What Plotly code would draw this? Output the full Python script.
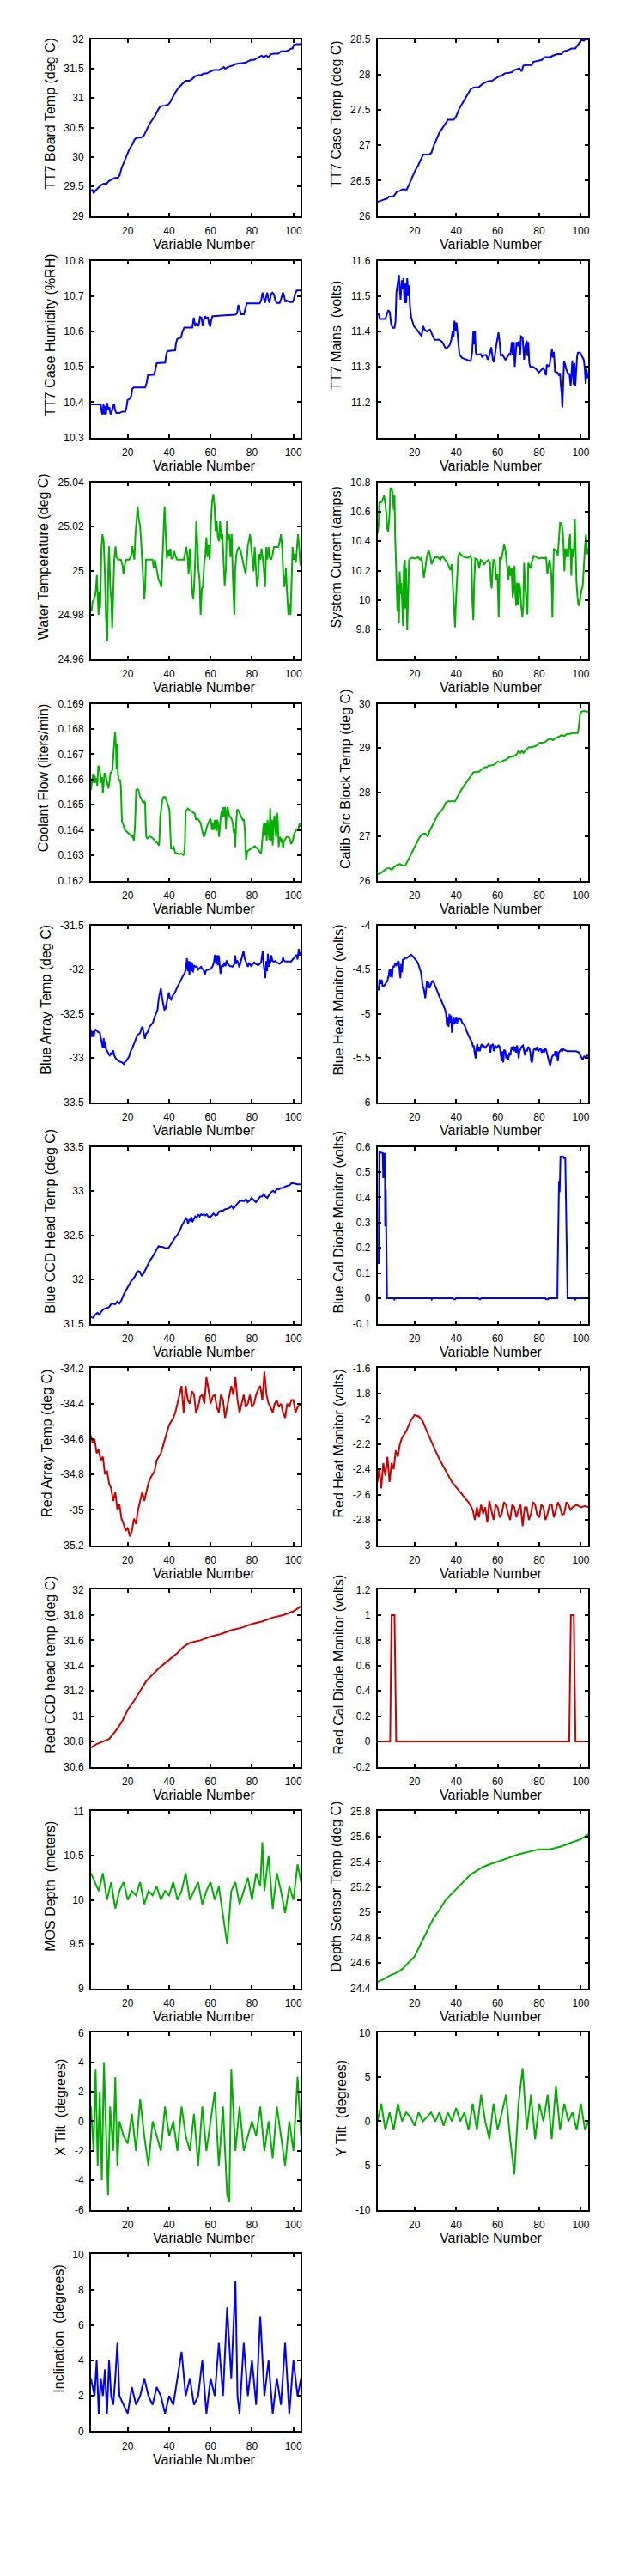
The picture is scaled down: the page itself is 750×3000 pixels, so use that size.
import plotly.graph_objects as go

# ---- data: (variable number, value) pairs ----
tt7_board = [(2.2, 29.43), (2.9, 29.44), (3.6, 29.39), (4.3, 29.425), (5.6, 29.47), (7.0, 29.52), (8.4, 29.546),
             (9.8, 29.546), (10.9, 29.594), (12.3, 29.618), (13.6, 29.643), (15.3, 29.652), (16.1, 29.69),
             (17.0, 29.81), (18.1, 29.908), (19.4, 30.029), (20.8, 30.135), (22.2, 30.213), (23.3, 30.295),
             (24.3, 30.329), (26.4, 30.329), (27.7, 30.357), (29.1, 30.464), (30.5, 30.56), (31.9, 30.633),
             (33.3, 30.705), (34.6, 30.80), (35.7, 30.86), (38.1, 30.874), (39.5, 30.889), (40.4, 30.923),
             (41.5, 31.005), (42.9, 31.092), (44.3, 31.164), (45.7, 31.213), (47.1, 31.271), (47.8, 31.295),
             (49.8, 31.295), (50.9, 31.319), (52.6, 31.372), (54.0, 31.391), (55.4, 31.391), (56.7, 31.42),
             (58.1, 31.42), (60.2, 31.454), (61.6, 31.478), (64.3, 31.478), (65.3, 31.502), (66.4, 31.527),
             (67.1, 31.498), (68.5, 31.527), (70.6, 31.551), (71.9, 31.575), (73.3, 31.585), (75.4, 31.599),
             (76.8, 31.599), (78.1, 31.623), (79.5, 31.647), (80.9, 31.647), (82.3, 31.671), (83.7, 31.696),
             (84.6, 31.72), (85.7, 31.696), (86.9, 31.72), (87.8, 31.696), (89.2, 31.744), (90.6, 31.754),
             (92.7, 31.754), (94.0, 31.792), (96.1, 31.792), (97.5, 31.807), (98.9, 31.841), (99.6, 31.841),
             (100.2, 31.903), (101.2, 31.913), (103.7, 31.913)]

tt7_case = [(2.2, 26.2), (2.8, 26.205), (4.0, 26.213), (5.4, 26.233), (6.8, 26.246), (7.7, 26.274), (9.5, 26.274),
            (10.4, 26.294), (11.5, 26.342), (12.9, 26.354), (14.0, 26.374), (16.3, 26.374), (17.7, 26.463),
            (19.0, 26.556), (20.4, 26.648), (21.8, 26.717), (23.1, 26.809), (24.2, 26.87), (27.2, 26.87),
            (28.2, 26.898), (29.3, 26.998), (30.6, 27.079), (32.0, 27.18), (33.4, 27.24), (34.7, 27.30),
            (36.1, 27.361), (38.8, 27.361), (39.9, 27.40), (41.6, 27.522), (42.9, 27.59), (44.3, 27.663),
            (45.7, 27.723), (47.0, 27.791), (48.4, 27.816), (51.1, 27.824), (52.5, 27.864), (53.9, 27.884),
            (55.2, 27.904), (57.3, 27.912), (58.6, 27.936), (60.7, 27.977), (62.0, 27.985), (63.4, 28.017),
            (65.5, 28.025), (66.8, 28.033), (68.2, 28.065), (69.6, 28.073), (70.5, 28.085), (71.6, 28.045),
            (72.3, 28.126), (74.3, 28.134), (76.4, 28.134), (77.1, 28.178), (79.1, 28.194), (81.2, 28.206),
            (82.5, 28.246), (85.3, 28.246), (86.6, 28.267), (88.7, 28.287), (90.7, 28.287), (91.8, 28.327),
            (93.4, 28.339), (95.5, 28.367), (97.3, 28.367), (98.2, 28.407), (99.2, 28.448), (100.3, 28.488),
            (101.4, 28.476), (102.3, 28.5), (103.7, 28.49)]

tt7_humidity = [(2.2, 10.3934), (7.0, 10.3934), (7.4, 10.3733), (7.8, 10.3652), (8.3, 10.3934), (8.7, 10.3652),
                (9.1, 10.3894), (9.5, 10.3652), (10.1, 10.3974), (10.6, 10.3773), (11.2, 10.3853), (11.7, 10.3652),
                (12.3, 10.3733), (12.8, 10.3813), (13.4, 10.3958), (13.9, 10.3773), (14.5, 10.3692), (16.0, 10.3692),
                (17.4, 10.3733), (18.8, 10.3733), (19.4, 10.3853), (19.9, 10.4055), (20.8, 10.4095), (21.7, 10.4176),
                (22.2, 10.4377), (22.9, 10.4417), (28.4, 10.4417), (29.1, 10.4538), (29.8, 10.4763), (32.6, 10.4779),
                (33.3, 10.49), (34.0, 10.5101), (38.1, 10.5118), (38.5, 10.5303), (39.1, 10.544), (42.9, 10.5464),
                (43.3, 10.5665), (43.9, 10.5786), (45.7, 10.5826), (46.4, 10.5987), (47.3, 10.6108), (51.2, 10.6108),
                (51.9, 10.639), (52.6, 10.6148), (53.3, 10.6229), (54.2, 10.6148), (54.9, 10.6406), (55.6, 10.639),
                (56.2, 10.6148), (56.7, 10.6309), (57.4, 10.643), (58.1, 10.6349), (58.7, 10.6406), (59.2, 10.6229),
                (59.8, 10.6132), (60.3, 10.6309), (60.9, 10.643), (71.9, 10.647), (72.8, 10.651), (73.4, 10.6752),
                (74.0, 10.6631), (74.7, 10.6486), (76.1, 10.6486), (76.8, 10.6631), (77.5, 10.6792), (83.7, 10.6792),
                (84.4, 10.6873), (85.1, 10.7098), (85.7, 10.6913), (86.3, 10.6808), (86.9, 10.6994), (87.4, 10.7098),
                (88.0, 10.6873), (88.5, 10.6808), (89.2, 10.705), (89.9, 10.7098), (90.6, 10.705), (91.3, 10.6873),
                (92.0, 10.6808), (93.4, 10.6808), (94.0, 10.6913), (94.9, 10.7098), (95.4, 10.7034), (96.1, 10.6833),
                (96.8, 10.6873), (98.2, 10.6833), (99.6, 10.6833), (100.2, 10.6913), (100.9, 10.7074),
                (101.6, 10.7155), (103.7, 10.7155)]

tt7_mains = [(2.2, 11.45), (2.7, 11.45), (3.3, 11.435), (6.0, 11.435), (6.8, 11.45), (7.4, 11.46), (8.1, 11.455),
             (8.8, 11.42), (9.5, 11.41), (10.4, 11.41), (10.9, 11.43), (11.3, 11.51), (11.8, 11.53), (12.5, 11.56),
             (12.9, 11.52), (13.3, 11.49), (13.9, 11.545), (14.3, 11.52), (14.7, 11.55), (15.2, 11.48),
             (15.6, 11.535), (16.0, 11.48), (16.5, 11.55), (17.0, 11.50), (17.4, 11.53), (17.8, 11.475),
             (18.4, 11.44), (19.7, 11.415), (21.1, 11.405), (22.5, 11.395), (23.4, 11.387), (24.2, 11.415),
             (24.8, 11.405), (25.9, 11.40), (27.5, 11.405), (28.6, 11.39), (29.7, 11.376), (32.0, 11.376),
             (33.4, 11.37), (34.7, 11.355), (35.4, 11.352), (36.8, 11.36), (37.7, 11.376), (38.3, 11.40),
             (38.8, 11.385), (39.2, 11.43), (39.8, 11.40), (40.2, 11.425), (40.9, 11.375), (41.6, 11.335),
             (42.9, 11.325), (44.3, 11.322), (45.7, 11.318), (47.0, 11.316), (47.7, 11.34), (48.3, 11.40),
             (48.7, 11.363), (49.1, 11.40), (49.5, 11.338), (50.4, 11.334), (51.8, 11.336), (52.5, 11.328),
             (53.6, 11.333), (54.5, 11.333), (55.2, 11.32), (55.9, 11.33), (56.9, 11.355), (57.7, 11.32),
             (58.2, 11.313), (58.8, 11.345), (59.3, 11.36), (60.0, 11.383), (60.4, 11.397), (61.0, 11.366),
             (61.5, 11.33), (62.3, 11.334), (63.1, 11.324), (63.7, 11.32), (64.5, 11.326), (65.5, 11.336),
             (66.1, 11.334), (66.8, 11.37), (67.2, 11.334), (67.8, 11.37), (68.2, 11.30), (68.6, 11.346),
             (69.1, 11.37), (69.7, 11.358), (70.2, 11.372), (70.8, 11.334), (71.2, 11.386), (72.0, 11.383),
             (72.7, 11.32), (73.2, 11.355), (73.9, 11.374), (74.3, 11.33), (74.7, 11.37), (75.2, 11.31),
             (75.7, 11.30), (77.1, 11.3), (78.4, 11.294), (79.8, 11.284), (80.7, 11.29), (81.8, 11.296),
             (82.5, 11.29), (83.2, 11.276), (83.6, 11.306), (84.3, 11.302), (85.0, 11.306), (85.5, 11.326),
             (86.1, 11.35), (86.5, 11.326), (87.0, 11.342), (87.6, 11.286), (88.7, 11.284), (89.4, 11.277),
             (90.0, 11.282), (90.4, 11.245), (90.7, 11.23), (91.1, 11.185), (91.5, 11.253), (91.9, 11.315),
             (92.5, 11.306), (92.9, 11.294), (93.7, 11.282), (94.5, 11.28), (95.1, 11.245), (95.5, 11.302),
             (95.9, 11.318), (96.5, 11.25), (96.9, 11.31), (97.3, 11.245), (97.8, 11.31), (98.2, 11.33),
             (98.6, 11.34), (99.6, 11.34), (100.5, 11.33), (101.4, 11.32), (101.9, 11.294), (102.3, 11.252),
             (102.7, 11.294), (103.3, 11.27), (103.7, 11.27)]

water_temp = [(2.2, 24.982), (2.6, 24.982), (3.0, 24.986), (3.6, 24.9865), (4.3, 24.989), (4.7, 24.992),
              (5.1, 24.998), (5.5, 24.9865), (5.9, 24.980), (6.3, 24.9905), (6.7, 24.983), (7.3, 25.010),
              (7.8, 25.0165), (8.4, 25.0127), (8.9, 25.001), (9.5, 24.979), (10.1, 24.968), (10.6, 24.9997),
              (11.0, 25.011), (11.6, 24.992), (12.1, 24.9865), (12.5, 24.974), (13.1, 24.9985), (13.5, 25.005),
              (14.1, 25.011), (14.6, 25.006), (15.3, 25.005), (16.7, 25.005), (17.5, 25.0023), (17.9, 24.9985),
              (18.5, 25.0023), (19.2, 25.005), (20.8, 25.005), (21.7, 25.007), (22.2, 25.011), (22.8, 25.0075),
              (23.2, 25.005), (23.7, 25.016), (24.3, 25.0217), (24.8, 25.029), (25.4, 25.023), (26.0, 25.020),
              (26.5, 25.0127), (27.0, 25.005), (27.6, 24.9975), (28.0, 24.987), (28.4, 24.992), (28.8, 25.005),
              (31.9, 25.005), (32.6, 25.001), (33.1, 25.005), (33.7, 25.0023), (34.2, 24.9997), (34.9, 24.996),
              (35.6, 24.9946), (36.2, 24.9926), (36.7, 25.0036), (37.3, 25.020), (37.8, 25.029), (38.4, 25.0153),
              (38.9, 25.0055), (39.5, 25.0094), (40.0, 25.0068), (40.6, 25.010), (41.1, 25.0055), (41.8, 25.0055),
              (42.4, 25.0088), (43.2, 25.0062), (43.9, 25.005), (47.1, 25.005), (47.8, 25.0081), (48.3, 25.0107),
              (48.9, 25.0062), (49.4, 24.9985), (50.0, 25.010), (50.5, 25.001), (51.1, 24.9907), (51.6, 24.987),
              (52.0, 24.992), (52.6, 25.005), (53.1, 25.0223), (53.7, 25.0114), (54.1, 25.001), (54.7, 24.996),
              (55.2, 24.980), (55.8, 24.992), (56.3, 24.9926), (56.9, 25.0036), (57.4, 25.0062), (58.0, 25.015),
              (58.5, 25.0062), (59.1, 25.0114), (59.6, 25.005), (60.2, 25.0223), (60.7, 25.031), (61.3, 25.0346),
              (61.9, 25.0294), (62.4, 25.018), (63.0, 25.0223), (63.5, 25.015), (64.1, 25.0133), (64.6, 25.0223),
              (65.2, 25.014), (65.7, 25.0165), (66.3, 24.9997), (66.8, 24.9933), (67.4, 25.001), (67.9, 25.0223),
              (68.5, 25.014), (69.1, 25.0165), (69.6, 25.0062), (70.2, 25.0165), (70.7, 24.9985), (71.2, 24.987),
              (71.5, 24.980), (71.9, 25.001), (72.5, 25.0075), (73.0, 25.0094), (73.7, 25.0107), (74.4, 25.0094),
              (75.1, 25.0062), (75.7, 25.0036), (76.4, 24.9997), (76.9, 24.9985), (77.5, 25.005), (78.0, 25.0114),
              (78.6, 25.014), (79.1, 25.0165), (79.7, 25.010), (80.2, 25.0055), (80.8, 24.9997), (81.3, 25.0107),
              (81.9, 24.9997), (82.4, 24.9926), (83.0, 24.997), (83.5, 25.0075), (84.1, 25.005), (84.6, 25.010),
              (85.2, 25.0055), (85.7, 25.001), (86.3, 24.9926), (86.9, 25.0107), (87.4, 25.005), (88.0, 25.0107),
              (88.5, 25.0062), (89.2, 25.005), (89.9, 25.007), (90.6, 25.0107), (92.7, 25.0107), (93.3, 25.0127),
              (94.0, 25.0165), (94.6, 25.010), (95.1, 24.9985), (95.6, 24.9926), (96.0, 24.996), (96.4, 25.001),
              (96.8, 24.992), (97.2, 24.9865), (97.6, 24.980), (98.2, 24.985), (98.6, 24.980), (99.1, 24.9942),
              (99.6, 25.0107), (100.1, 25.005), (100.7, 25.0075), (101.2, 25.0036), (101.6, 25.0107),
              (102.2, 25.0165), (102.7, 25.0114), (103.4, 25.0023), (103.7, 25.006)]

system_current = [(2.2, 10.45), (2.8, 10.515), (3.1, 10.664), (4.0, 10.664), (4.7, 10.680), (5.4, 10.709),
                  (5.9, 10.660), (6.5, 10.583), (6.9, 10.485), (7.4, 10.466), (8.0, 10.583), (8.4, 10.761),
                  (9.1, 10.753), (9.6, 10.718), (10.0, 10.612), (10.4, 10.709), (10.7, 10.437), (11.1, 10.262),
                  (11.5, 10.087), (11.8, 9.922), (12.2, 10.107), (12.5, 9.845), (12.9, 10.194), (13.3, 10.039),
                  (13.7, 10.117), (14.1, 9.922), (14.5, 9.825), (14.9, 10.233), (15.4, 10.272), (15.6, 9.942),
                  (16.0, 10.214), (16.5, 9.796), (16.9, 10.039), (17.4, 10.272), (17.8, 10.282), (19.0, 10.287),
                  (20.4, 10.282), (21.8, 10.291), (22.9, 10.272), (23.4, 10.291), (24.1, 10.204), (24.5, 10.151),
                  (25.2, 10.214), (25.9, 10.291), (26.8, 10.340), (27.6, 10.301), (28.2, 10.243), (29.0, 10.272),
                  (30.0, 10.291), (31.3, 10.291), (32.4, 10.272), (33.4, 10.301), (34.5, 10.276), (35.4, 10.262),
                  (36.4, 10.233), (37.2, 10.204), (37.9, 10.243), (38.4, 10.087), (38.8, 10.000), (39.1, 9.883),
                  (39.5, 9.816), (39.9, 9.981), (40.5, 10.204), (41.0, 10.291), (41.6, 10.320), (42.9, 10.301),
                  (44.3, 10.291), (45.7, 10.287), (47.0, 10.301), (47.4, 10.272), (47.8, 10.000), (48.3, 9.864),
                  (48.7, 10.117), (49.2, 10.282), (50.4, 10.272), (51.1, 10.214), (51.8, 10.272), (52.5, 10.266),
                  (53.6, 10.243), (54.5, 10.262), (55.5, 10.272), (56.3, 10.252), (56.7, 10.126), (57.1, 10.078),
                  (57.5, 10.194), (57.9, 10.272), (58.6, 10.272), (59.3, 10.136), (59.9, 10.175), (60.3, 9.961),
                  (60.5, 9.883), (61.0, 10.291), (61.5, 10.272), (62.0, 10.291), (62.6, 10.330), (63.1, 10.379),
                  (63.7, 10.340), (64.2, 10.282), (64.8, 10.184), (65.2, 10.136), (65.6, 10.233), (66.1, 10.165),
                  (66.7, 10.214), (67.2, 10.019), (67.6, 10.058), (68.1, 10.233), (68.5, 10.039), (68.9, 9.961),
                  (69.3, 10.117), (69.7, 9.971), (70.2, 10.117), (70.8, 10.078), (71.3, 9.961), (71.9, 9.883),
                  (72.3, 9.961), (72.7, 10.252), (73.1, 10.117), (73.5, 10.039), (73.9, 9.922), (74.3, 9.903),
                  (74.7, 10.252), (75.3, 10.233), (75.8, 10.214), (76.2, 10.252), (76.8, 10.272), (77.3, 10.301),
                  (78.4, 10.291), (79.8, 10.282), (81.2, 10.287), (82.5, 10.282), (83.3, 10.291), (83.9, 10.175),
                  (84.3, 10.214), (84.8, 10.272), (85.4, 10.233), (85.8, 10.175), (86.1, 10.039), (86.3, 9.883),
                  (86.6, 10.117), (87.0, 10.350), (87.6, 10.340), (88.4, 10.330), (88.9, 10.301), (89.5, 10.427),
                  (90.0, 10.524), (90.7, 10.520), (91.3, 10.466), (91.7, 10.350), (92.1, 10.194), (92.5, 10.350),
                  (92.9, 10.291), (93.4, 10.350), (93.9, 10.291), (94.3, 10.388), (94.8, 10.447), (95.4, 10.165),
                  (95.8, 10.350), (96.2, 10.291), (96.7, 10.350), (97.1, 10.553), (97.5, 10.291), (97.9, 10.117),
                  (98.4, 10.019), (98.8, 9.971), (99.2, 9.961), (99.7, 10.019), (100.3, 10.068), (100.9, 10.097),
                  (101.5, 10.272), (102.0, 10.369), (102.5, 10.447), (103.0, 10.311), (103.7, 10.35)]

coolant_flow = [(2.2, 0.165584), (2.9, 0.165979), (3.3, 0.166227), (3.7, 0.165866), (4.1, 0.166148), (4.5, 0.165866),
                (4.9, 0.166058), (5.3, 0.165754), (5.8, 0.166543), (6.2, 0.166486), (6.6, 0.166317), (7.2, 0.165866),
                (7.6, 0.166092), (8.0, 0.165472), (8.4, 0.165866), (8.8, 0.166261), (9.4, 0.166148), (9.8, 0.165979),
                (10.3, 0.165754), (10.7, 0.165641), (11.2, 0.165923), (11.7, 0.166261), (12.3, 0.166295),
                (12.7, 0.16643), (13.1, 0.166994), (13.5, 0.167557), (13.9, 0.167895), (14.3, 0.167332),
                (14.6, 0.16643), (15.0, 0.167388), (15.3, 0.166205), (15.7, 0.165979), (16.3, 0.165979),
                (16.7, 0.165754), (17.0, 0.165077), (17.2, 0.164345), (17.8, 0.164232), (18.6, 0.164006),
                (19.4, 0.16395), (20.6, 0.16386), (21.5, 0.163781), (22.2, 0.163725), (22.6, 0.163781),
                (23.0, 0.163555), (23.5, 0.164175), (23.7, 0.165077), (24.1, 0.165584), (24.7, 0.165618),
                (25.2, 0.165584), (25.8, 0.165359), (26.4, 0.165246), (26.9, 0.165167), (27.5, 0.165077),
                (28.0, 0.165134), (28.4, 0.165077), (28.7, 0.164175), (29.0, 0.163725), (29.5, 0.163668),
                (30.5, 0.163747), (31.3, 0.163725), (32.2, 0.163668), (33.3, 0.163555), (34.2, 0.163499),
                (35.1, 0.163386), (35.3, 0.163612), (35.7, 0.164514), (36.2, 0.164852), (36.7, 0.16519),
                (37.3, 0.165303), (38.1, 0.165303), (38.6, 0.16519), (39.2, 0.165077), (39.8, 0.164908),
                (40.2, 0.164739), (40.6, 0.16395), (40.9, 0.163274), (41.5, 0.163274), (42.2, 0.16333),
                (42.9, 0.163105), (43.9, 0.163071), (45.0, 0.163048), (46.0, 0.163071), (46.8, 0.163014),
                (47.2, 0.163048), (47.6, 0.163443), (48.0, 0.164739), (48.5, 0.164795), (49.0, 0.164852),
                (49.8, 0.164795), (50.7, 0.164739), (51.5, 0.164717), (52.4, 0.164649), (52.9, 0.164401),
                (53.4, 0.164457), (54.3, 0.164401), (55.1, 0.164288), (55.6, 0.164119), (56.2, 0.163894),
                (56.7, 0.163725), (57.3, 0.163837), (57.8, 0.164006), (58.4, 0.164175), (59.0, 0.164288),
                (59.5, 0.164401), (59.9, 0.164457), (60.3, 0.164288), (60.7, 0.164006), (61.2, 0.164288),
                (61.6, 0.164006), (62.0, 0.164401), (62.4, 0.164232), (62.8, 0.16395), (63.2, 0.164401),
                (63.6, 0.164288), (64.1, 0.163725), (64.5, 0.164288), (64.9, 0.164514), (65.3, 0.164739),
                (65.7, 0.164514), (66.1, 0.164908), (66.5, 0.164514), (67.0, 0.164908), (67.4, 0.164063),
                (67.8, 0.164683), (68.2, 0.164908), (68.6, 0.164739), (69.2, 0.164514), (69.7, 0.164514),
                (70.3, 0.164401), (70.8, 0.164232), (71.2, 0.163894), (71.7, 0.164063), (71.9, 0.16333),
                (72.3, 0.164175), (72.8, 0.164795), (73.3, 0.164795), (73.9, 0.164683), (74.4, 0.16457),
                (75.0, 0.164457), (75.5, 0.164401), (76.1, 0.164401), (76.6, 0.16395), (76.9, 0.163161),
                (77.2, 0.162823), (77.7, 0.163161), (78.6, 0.163217), (79.5, 0.163274), (80.5, 0.16333),
                (81.3, 0.163364), (82.3, 0.163296), (83.0, 0.163217), (83.8, 0.163105), (84.4, 0.163071),
                (84.6, 0.163217), (85.1, 0.163894), (85.5, 0.164119), (85.9, 0.164288), (86.3, 0.163781),
                (86.7, 0.164288), (87.1, 0.163555), (87.5, 0.164401), (87.9, 0.16395), (88.4, 0.163612),
                (88.8, 0.164852), (89.2, 0.163555), (89.6, 0.164401), (90.0, 0.163386), (90.4, 0.164288),
                (90.9, 0.16457), (91.3, 0.16395), (91.7, 0.163725), (92.1, 0.164683), (92.5, 0.164288),
                (92.9, 0.16333), (93.3, 0.163725), (93.8, 0.163668), (94.2, 0.163499), (94.6, 0.163668),
                (95.0, 0.163274), (95.4, 0.163555), (96.1, 0.163668), (96.8, 0.163725), (97.5, 0.163725),
                (98.2, 0.163668), (98.9, 0.163443), (99.6, 0.163555), (100.2, 0.163781), (100.9, 0.16395),
                (101.6, 0.164006), (102.3, 0.164006), (103.0, 0.164288), (103.7, 0.164119)]

calib_block = [(2.2, 26.14), (2.8, 26.148), (4.0, 26.18), (5.4, 26.225), (6.8, 26.277), (8.1, 26.277), (9.1, 26.245),
               (10.2, 26.309), (11.5, 26.354), (12.9, 26.374), (14.3, 26.341), (15.6, 26.341), (17.0, 26.47),
               (18.4, 26.599), (19.7, 26.728), (21.1, 26.857), (22.5, 26.986), (23.8, 27.05), (25.2, 27.063),
               (26.3, 26.998), (27.2, 27.114), (28.6, 27.243), (30.0, 27.372), (31.3, 27.501), (32.7, 27.565),
               (34.1, 27.662), (35.0, 27.758), (36.1, 27.791), (38.2, 27.791), (39.5, 27.791), (40.5, 27.887),
               (41.6, 27.984), (42.9, 28.081), (44.3, 28.177), (45.7, 28.274), (47.0, 28.37), (48.4, 28.454),
               (49.8, 28.454), (51.1, 28.467), (52.5, 28.519), (53.9, 28.564), (54.8, 28.564), (55.5, 28.596),
               (57.3, 28.609), (58.6, 28.628), (60.0, 28.692), (61.4, 28.673), (62.7, 28.712), (64.1, 28.738),
               (65.5, 28.789), (66.8, 28.802), (68.2, 28.821), (69.1, 28.853), (70.0, 28.931), (70.9, 28.886),
               (71.6, 28.931), (72.4, 28.886), (73.7, 28.963), (75.0, 29.014), (76.4, 29.014), (77.7, 29.034),
               (79.1, 29.06), (80.0, 29.111), (81.2, 29.124), (82.5, 29.124), (83.9, 29.176), (85.3, 29.208),
               (86.6, 29.176), (88.0, 29.227), (89.4, 29.253), (90.7, 29.291), (92.1, 29.272), (93.4, 29.317),
               (94.8, 29.317), (96.2, 29.337), (97.5, 29.337), (98.6, 29.337), (99.2, 29.562), (99.6, 29.755),
               (100.3, 29.82), (101.6, 29.833), (103.0, 29.82), (103.7, 29.82)]

blue_array = [(2.2, -32.681), (2.7, -32.762), (3.1, -32.697), (3.6, -32.762), (4.0, -32.697), (4.5, -32.681),
              (5.1, -32.691), (5.6, -32.707), (6.5, -32.714), (7.0, -32.778), (7.6, -32.843), (8.0, -32.892),
              (8.4, -32.778), (8.8, -32.892), (9.2, -32.811), (9.6, -32.908), (10.2, -32.924), (10.7, -32.956),
              (11.3, -32.972), (11.9, -32.94), (12.4, -32.966), (13.0, -32.914), (13.5, -32.972), (14.2, -33.005),
              (14.9, -33.021), (15.7, -33.037), (16.7, -33.047), (17.5, -33.053), (18.1, -33.07), (18.6, -33.047),
              (19.2, -33.037), (19.7, -33.021), (20.6, -32.989), (21.4, -32.924), (22.2, -32.892), (23.0, -32.843),
              (23.9, -32.794), (24.7, -32.739), (25.5, -32.73), (26.1, -32.714), (26.6, -32.665), (27.2, -32.649),
              (27.7, -32.714), (28.3, -32.785), (28.8, -32.73), (29.7, -32.707), (30.5, -32.649), (31.3, -32.623),
              (32.2, -32.6), (33.0, -32.536), (33.8, -32.487), (34.4, -32.455), (34.9, -32.341), (35.5, -32.26),
              (36.0, -32.212), (36.6, -32.325), (37.1, -32.39), (37.7, -32.455), (38.2, -32.448), (38.8, -32.374),
              (39.3, -32.309), (39.9, -32.26), (40.4, -32.325), (41.0, -32.341), (41.8, -32.293), (42.7, -32.267),
              (43.5, -32.222), (44.3, -32.189), (45.1, -32.147), (46.0, -32.105), (46.8, -32.066), (47.6, -32.04),
              (48.2, -31.969), (48.6, -31.872), (49.0, -32.018), (49.4, -31.905), (49.8, -32.066), (50.2, -31.911),
              (50.7, -32.018), (51.1, -31.921), (51.5, -32.034), (52.0, -31.953), (52.6, -31.969), (53.3, -31.963),
              (54.0, -32.002), (54.7, -31.985), (55.4, -31.969), (56.0, -31.995), (56.6, -32.002), (57.2, -32.066),
              (57.7, -32.018), (58.4, -32.002), (59.5, -32.002), (60.3, -31.985), (60.9, -31.969), (61.6, -31.921),
              (62.1, -31.833), (62.7, -31.937), (63.1, -31.84), (63.5, -31.953), (63.9, -31.84), (64.3, -31.921),
              (64.8, -32.05), (65.2, -31.969), (65.6, -31.953), (66.0, -31.969), (66.4, -31.937), (66.8, -31.921),
              (67.2, -31.963), (67.8, -31.898), (68.3, -31.937), (68.9, -31.953), (69.4, -31.963), (70.0, -31.963),
              (70.6, -31.969), (71.1, -31.953), (71.5, -31.937), (71.9, -31.84), (72.3, -31.937), (72.8, -31.898),
              (73.3, -31.921), (73.9, -31.976), (74.4, -31.93), (75.0, -31.898), (75.5, -31.856), (75.9, -31.791),
              (76.4, -31.872), (76.9, -31.905), (77.5, -31.953), (78.0, -31.969), (78.6, -31.93), (79.1, -31.937),
              (79.7, -31.969), (80.2, -31.943), (81.1, -31.921), (81.6, -31.937), (82.3, -31.943), (83.0, -31.953),
              (83.7, -31.937), (84.4, -31.921), (84.8, -31.856), (85.2, -31.791), (85.6, -31.937), (86.0, -32.018),
              (86.4, -32.099), (86.9, -31.905), (87.3, -32.018), (87.7, -31.824), (88.1, -31.969), (88.5, -31.888),
              (88.9, -31.921), (89.3, -31.84), (89.9, -31.905), (90.6, -31.911), (91.3, -31.905), (92.0, -31.921),
              (92.7, -31.93), (93.4, -31.937), (94.0, -31.921), (94.6, -31.905), (95.0, -31.866), (95.4, -31.898),
              (96.1, -31.911), (97.5, -31.911), (98.9, -31.911), (99.6, -31.888), (100.2, -31.872), (100.9, -31.856),
              (101.6, -31.833), (102.0, -31.888), (102.6, -31.769), (103.0, -31.84), (103.7, -31.81)]

blue_heat = [(2.2, -4.728), (2.8, -4.728), (3.2, -4.615), (3.8, -4.663), (4.2, -4.615), (4.7, -4.696), (5.5, -4.68),
             (6.3, -4.657), (7.0, -4.631), (7.6, -4.566), (8.0, -4.502), (8.4, -4.583), (8.8, -4.502), (9.2, -4.592),
             (9.6, -4.469), (10.2, -4.469), (10.7, -4.437), (11.3, -4.453), (11.8, -4.421), (12.4, -4.405),
             (12.8, -4.485), (13.2, -4.599), (13.6, -4.437), (14.0, -4.534), (14.4, -4.388), (14.9, -4.388),
             (15.6, -4.372), (16.3, -4.372), (17.0, -4.356), (17.7, -4.34), (18.4, -4.333), (19.0, -4.346),
             (19.7, -4.366), (20.4, -4.388), (21.1, -4.405), (21.8, -4.437), (22.5, -4.495), (23.1, -4.534),
             (23.5, -4.599), (24.0, -4.696), (24.4, -4.712), (24.8, -4.777), (25.2, -4.825), (25.6, -4.728),
             (26.0, -4.631), (26.4, -4.696), (26.8, -4.647), (27.2, -4.712), (27.6, -4.68), (28.2, -4.647),
             (28.7, -4.631), (29.3, -4.647), (30.0, -4.689), (30.6, -4.728), (31.3, -4.767), (32.0, -4.809),
             (32.7, -4.841), (33.4, -4.874), (34.1, -4.922), (34.7, -4.955), (35.2, -5.003), (35.6, -5.133),
             (36.0, -5.036), (36.4, -5.149), (36.8, -5.003), (37.2, -5.1), (37.6, -5.019), (38.0, -5.214),
             (38.4, -5.084), (38.8, -5.036), (39.3, -5.117), (39.7, -5.068), (40.1, -5.036), (40.5, -5.11),
             (40.9, -5.045), (41.3, -5.068), (41.8, -5.052), (42.4, -5.068), (42.9, -5.1), (43.6, -5.117),
             (44.3, -5.142), (44.9, -5.188), (45.6, -5.23), (46.3, -5.262), (47.0, -5.294), (47.7, -5.327),
             (48.1, -5.375), (48.5, -5.359), (48.9, -5.44), (49.4, -5.505), (49.8, -5.392), (50.2, -5.343),
             (50.6, -5.424), (51.0, -5.375), (51.4, -5.424), (51.8, -5.359), (52.2, -5.343), (52.8, -5.375),
             (53.3, -5.359), (53.9, -5.392), (54.4, -5.369), (54.9, -5.359), (55.5, -5.343), (56.0, -5.359),
             (56.5, -5.44), (56.9, -5.359), (57.3, -5.359), (57.7, -5.343), (58.1, -5.424), (58.5, -5.375),
             (58.9, -5.359), (59.3, -5.392), (59.9, -5.375), (60.4, -5.359), (61.0, -5.375), (61.5, -5.472),
             (61.9, -5.537), (62.3, -5.424), (62.7, -5.553), (63.1, -5.408), (63.7, -5.424), (64.1, -5.505),
             (64.5, -5.472), (65.1, -5.521), (65.6, -5.44), (66.1, -5.472), (66.7, -5.375), (67.2, -5.408),
             (67.6, -5.369), (68.1, -5.424), (68.5, -5.375), (68.9, -5.44), (69.3, -5.359), (69.7, -5.408),
             (70.1, -5.505), (70.5, -5.424), (71.1, -5.392), (71.6, -5.369), (72.2, -5.359), (72.7, -5.408),
             (73.1, -5.472), (73.5, -5.408), (74.1, -5.424), (74.6, -5.375), (75.2, -5.392), (75.7, -5.44),
             (76.1, -5.537), (76.5, -5.553), (76.9, -5.44), (77.3, -5.408), (77.9, -5.392), (78.4, -5.414),
             (79.0, -5.375), (79.5, -5.424), (80.1, -5.408), (80.6, -5.392), (81.2, -5.44), (81.7, -5.408),
             (82.3, -5.44), (82.8, -5.392), (83.3, -5.408), (83.9, -5.472), (84.4, -5.505), (84.8, -5.553),
             (85.3, -5.586), (85.7, -5.521), (86.1, -5.489), (86.6, -5.472), (87.3, -5.466), (87.7, -5.424),
             (88.1, -5.489), (88.5, -5.424), (88.9, -5.537), (89.4, -5.44), (89.9, -5.424), (90.4, -5.408),
             (91.0, -5.424), (91.5, -5.401), (92.4, -5.414), (93.4, -5.424), (94.8, -5.424), (96.2, -5.424),
             (97.5, -5.424), (98.9, -5.434), (99.7, -5.472), (100.3, -5.505), (100.9, -5.521), (101.6, -5.482),
             (102.3, -5.489), (103.0, -5.472), (103.7, -5.48)]

blue_ccd = [(2.2, 31.574), (3.3, 31.567), (4.3, 31.6), (5.4, 31.622), (6.3, 31.6), (7.3, 31.638), (8.4, 31.664),
            (9.8, 31.677), (10.9, 31.686), (11.9, 31.718), (12.8, 31.728), (13.9, 31.718), (15.0, 31.75),
            (16.0, 31.728), (17.0, 31.766), (18.1, 31.831), (19.2, 31.879), (20.3, 31.927), (21.5, 31.975),
            (22.6, 32.007), (23.6, 32.039), (24.3, 32.081), (25.0, 32.094), (25.9, 32.088), (26.8, 32.039),
            (27.7, 32.071), (28.8, 32.12), (29.8, 32.177), (30.8, 32.216), (31.9, 32.254), (33.0, 32.296),
            (33.9, 32.344), (34.9, 32.376), (35.7, 32.37), (36.7, 32.37), (37.7, 32.36), (38.8, 32.351),
            (39.8, 32.36), (40.9, 32.402), (41.8, 32.434), (42.9, 32.473), (44.0, 32.505), (45.0, 32.543),
            (46.0, 32.601), (46.8, 32.64), (47.5, 32.665), (48.2, 32.691), (48.7, 32.672), (49.1, 32.627),
            (49.8, 32.681), (50.2, 32.659), (50.8, 32.704), (51.2, 32.649), (51.9, 32.691), (52.6, 32.713),
            (53.3, 32.697), (54.0, 32.736), (54.7, 32.713), (55.4, 32.736), (56.0, 32.73), (56.7, 32.736),
            (57.4, 32.723), (58.1, 32.736), (58.8, 32.713), (59.8, 32.704), (60.6, 32.723), (61.4, 32.746),
            (62.3, 32.723), (63.2, 32.73), (64.1, 32.768), (65.0, 32.778), (66.0, 32.778), (67.1, 32.794),
            (68.1, 32.8), (69.2, 32.81), (70.1, 32.832), (71.0, 32.8), (71.9, 32.826), (73.0, 32.858),
            (74.0, 32.884), (75.0, 32.89), (76.1, 32.884), (77.1, 32.906), (77.9, 32.874), (78.8, 32.89),
            (79.8, 32.922), (80.9, 32.896), (81.9, 32.874), (83.0, 32.906), (84.0, 32.938), (84.9, 32.938),
            (85.7, 32.97), (86.4, 32.938), (87.4, 32.922), (88.2, 32.954), (89.2, 32.986), (90.2, 33.002),
            (91.0, 32.986), (92.0, 33.025), (92.9, 33.018), (94.0, 33.035), (95.1, 33.035), (96.1, 33.051),
            (97.1, 33.057), (98.2, 33.067), (99.1, 33.089), (100.0, 33.089), (100.9, 33.083), (102.0, 33.076),
            (103.7, 33.076)]

blue_cal_diode = [(2.2, 0.14), (2.8, 0.14), (3.1, 0.578), (4.7, 0.575), (5.0, 0.476), (5.3, 0.572), (5.8, 0.572),
                  (5.9, 0.285), (6.2, 0.43), (6.5, 0.094), (6.7, 0.14), (6.8, 0.0), (10.0, 0.0), (10.3, -0.004),
                  (10.6, 0.0), (28.0, 0.0), (28.3, -0.004), (28.6, 0.0), (38.5, 0.0), (38.8, -0.004), (39.6, -0.004),
                  (39.9, 0.0), (50.0, 0.0), (50.3, 0.003), (50.6, 0.0), (51.6, -0.004), (52.0, 0.0), (83.0, 0.0),
                  (83.3, -0.004), (84.2, -0.004), (84.5, 0.0), (88.7, 0.0), (88.8, 0.083), (89.1, 0.274),
                  (89.5, 0.465), (89.8, 0.42), (90.2, 0.561), (91.5, 0.561), (91.8, 0.555), (92.5, 0.555),
                  (92.8, 0.42), (93.0, 0.274), (93.3, 0.139), (93.6, 0.0), (97.0, 0.0), (97.3, -0.004), (97.6, 0.0),
                  (98.5, 0.0), (98.8, 0.003), (99.1, 0.0), (103.7, 0.0)]

red_array = [(2.2, -34.58), (3.0, -34.62), (4.0, -34.6), (5.0, -34.68), (6.0, -34.66), (7.0, -34.72), (8.0, -34.7),
             (9.0, -34.8), (10.0, -34.78), (11.0, -34.85), (12.0, -34.88), (13.0, -34.95), (14.0, -34.9),
             (15.0, -35.0), (16.0, -34.97), (17.0, -35.05), (18.0, -35.08), (19.0, -35.12), (20.0, -35.1),
             (21.0, -35.15), (22.0, -35.12), (23.0, -35.05), (24.0, -35.08), (25.0, -35.0), (26.0, -34.95),
             (27.0, -34.9), (28.0, -34.95), (29.0, -34.9), (30.0, -34.85), (31.0, -34.82), (32.0, -34.8),
             (33.0, -34.78), (34.0, -34.72), (35.0, -34.7), (36.0, -34.68), (37.0, -34.64), (38.0, -34.6),
             (39.0, -34.55), (40.0, -34.52), (41.0, -34.5), (42.0, -34.48), (43.0, -34.45), (44.0, -34.4),
             (45.0, -34.35), (46.0, -34.3), (47.0, -34.45), (48.0, -34.3), (49.0, -34.38), (50.0, -34.4),
             (51.0, -34.33), (52.0, -34.35), (53.0, -34.45), (54.0, -34.42), (55.0, -34.36), (56.0, -34.35),
             (57.0, -34.4), (58.0, -34.25), (59.0, -34.32), (60.0, -34.4), (61.0, -34.36), (62.0, -34.35),
             (63.0, -34.42), (64.0, -34.45), (65.0, -34.35), (66.0, -34.38), (67.0, -34.48), (68.0, -34.42),
             (69.0, -34.36), (70.0, -34.3), (71.0, -34.35), (72.0, -34.25), (73.0, -34.38), (74.0, -34.45),
             (75.0, -34.4), (76.0, -34.35), (77.0, -34.42), (78.0, -34.4), (79.0, -34.35), (80.0, -34.42),
             (81.0, -34.4), (82.0, -34.35), (83.0, -34.32), (84.0, -34.3), (85.0, -34.38), (86.0, -34.22),
             (87.0, -34.35), (88.0, -34.4), (89.0, -34.42), (90.0, -34.45), (91.0, -34.4), (92.0, -34.38),
             (93.0, -34.42), (94.0, -34.4), (95.0, -34.45), (96.0, -34.48), (97.0, -34.4), (98.0, -34.42),
             (99.0, -34.38), (100.0, -34.38), (101.0, -34.45), (102.0, -34.42), (103.7, -34.4)]

red_heat = [(2.2, -2.5), (3.0, -2.4), (4.0, -2.55), (5.0, -2.35), (6.0, -2.45), (7.0, -2.3), (8.0, -2.5),
            (9.0, -2.35), (10.0, -2.4), (11.0, -2.25), (12.0, -2.3), (13.0, -2.2), (14.0, -2.15), (16.0, -2.1),
            (18.0, -2.02), (20.0, -1.97), (22.0, -1.98), (24.0, -2.02), (26.0, -2.1), (28.0, -2.18),
            (30.0, -2.25), (32.0, -2.32), (34.0, -2.38), (36.0, -2.44), (38.0, -2.5), (40.0, -2.54),
            (42.0, -2.58), (44.0, -2.62), (46.0, -2.66), (48.0, -2.72), (49.0, -2.8), (50.0, -2.7), (51.0, -2.78),
            (52.0, -2.68), (53.0, -2.75), (54.0, -2.7), (55.0, -2.82), (56.0, -2.65), (57.0, -2.72), (58.0, -2.8),
            (59.0, -2.68), (60.0, -2.7), (61.0, -2.78), (62.0, -2.75), (63.0, -2.66), (64.0, -2.68), (65.0, -2.75),
            (66.0, -2.8), (67.0, -2.68), (68.0, -2.7), (69.0, -2.78), (70.0, -2.72), (71.0, -2.68), (72.0, -2.85),
            (73.0, -2.7), (74.0, -2.7), (75.0, -2.8), (76.0, -2.75), (77.0, -2.66), (78.0, -2.68), (79.0, -2.76),
            (80.0, -2.78), (81.0, -2.68), (82.0, -2.7), (83.0, -2.8), (84.0, -2.75), (85.0, -2.68), (86.0, -2.68),
            (87.0, -2.78), (88.0, -2.72), (89.0, -2.66), (90.0, -2.7), (91.0, -2.76), (92.0, -2.75), (93.0, -2.66),
            (94.0, -2.68), (95.0, -2.72), (96.0, -2.7), (98.0, -2.68), (100.0, -2.7), (102.0, -2.69),
            (103.7, -2.7)]

red_ccd = [(2.2, 30.75), (5.0, 30.78), (8.0, 30.8), (11.0, 30.82), (14.0, 30.88), (17.0, 30.95), (20.0, 31.05),
           (23.0, 31.12), (26.0, 31.2), (29.0, 31.28), (32.0, 31.33), (35.0, 31.38), (38.0, 31.42), (41.0, 31.46),
           (44.0, 31.5), (47.0, 31.55), (50.0, 31.58), (55.0, 31.6), (60.0, 31.63), (65.0, 31.65), (70.0, 31.68),
           (75.0, 31.7), (80.0, 31.73), (85.0, 31.75), (90.0, 31.78), (95.0, 31.8), (100.0, 31.83), (103.7, 31.87)]

red_cal_diode = [(2.2, 0.0), (8.3, 0.0), (8.6, 0.5), (9.0, 1.0), (10.4, 1.0), (10.8, 0.5), (11.2, 0.0), (94.4, 0.0),
                 (94.8, 0.5), (95.2, 1.0), (96.6, 1.0), (97.0, 0.5), (97.4, 0.0), (103.7, 0.0)]

mos_depth = [(2.2, 10.3), (4.0, 10.2), (6.0, 10.1), (8.0, 10.3), (10.0, 10.0), (12.0, 10.2), (14.0, 9.9), (16.0, 10.1),
             (18.0, 10.2), (20.0, 10.0), (22.0, 10.1), (24.0, 10.05), (26.0, 10.2), (28.0, 9.95), (30.0, 10.1),
             (32.0, 10.05), (34.0, 10.15), (36.0, 10.0), (38.0, 10.1), (40.0, 10.05), (42.0, 10.2), (44.0, 10.0),
             (46.0, 10.1), (48.0, 10.3), (50.0, 10.0), (52.0, 10.1), (54.0, 10.2), (56.0, 9.95), (58.0, 10.1),
             (60.0, 10.2), (62.0, 10.0), (64.0, 10.15), (66.0, 9.8), (68.0, 9.5), (70.0, 10.1), (72.0, 10.2),
             (74.0, 9.95), (76.0, 10.1), (78.0, 10.25), (80.0, 10.0), (82.0, 10.3), (84.0, 10.15), (85.0, 10.65),
             (86.0, 10.1), (88.0, 10.5), (90.0, 9.9), (92.0, 10.3), (94.0, 10.1), (96.0, 9.85), (98.0, 10.15),
             (100.0, 10.0), (102.0, 10.4), (103.7, 10.2)]

depth_sensor_temp = [(2.2, 24.45), (5.0, 24.47), (8.0, 24.5), (11.0, 24.52), (14.0, 24.55), (17.0, 24.6),
                     (20.0, 24.65), (23.0, 24.75), (26.0, 24.85), (29.0, 24.95), (32.0, 25.02), (35.0, 25.1),
                     (38.0, 25.15), (41.0, 25.2), (44.0, 25.25), (47.0, 25.3), (50.0, 25.33), (53.0, 25.36),
                     (56.0, 25.38), (60.0, 25.4), (65.0, 25.43), (70.0, 25.46), (75.0, 25.48), (80.0, 25.5),
                     (85.0, 25.5), (90.0, 25.52), (95.0, 25.55), (100.0, 25.58), (103.7, 25.62)]

x_tilt = [(2.2, 1.0), (3.5, -2.0), (4.5, 3.5), (5.5, -3.0), (6.5, 2.0), (7.5, -4.0), (8.5, 4.0), (9.5, -1.0),
          (10.5, -5.0), (11.5, 1.0), (13.0, -2.0), (14.0, 3.0), (15.0, -3.0), (16.0, 0.0), (18.0, -1.0),
          (20.0, -1.5), (22.0, 0.5), (24.0, -2.0), (26.0, 1.5), (28.0, -1.0), (30.0, -3.0), (32.0, 0.0),
          (34.0, -1.0), (36.0, -2.0), (38.0, 1.0), (40.0, -1.0), (42.0, 0.0), (44.0, -2.0), (46.0, 1.0),
          (48.0, -1.0), (50.0, -2.0), (52.0, 0.5), (54.0, -3.0), (56.0, 1.0), (58.0, -2.0), (60.0, 0.0),
          (62.0, 2.0), (64.0, -3.0), (66.0, 1.0), (68.0, -5.0), (69.0, -5.5), (70.0, 3.5), (72.0, -2.0),
          (74.0, 1.0), (76.0, -2.0), (78.0, -1.0), (80.0, 0.0), (82.0, -1.0), (84.0, 1.0), (86.0, -2.0),
          (88.0, 0.0), (90.0, -2.5), (92.0, 1.0), (94.0, -1.0), (96.0, -3.0), (98.0, 0.0), (100.0, -2.0),
          (102.0, 3.0), (103.7, -1.0)]

y_tilt = [(2.2, 0.0), (4.0, 2.0), (6.0, -1.0), (8.0, 1.0), (10.0, -1.0), (12.0, 2.0), (14.0, 0.0), (16.0, 1.0),
          (18.0, 0.5), (20.0, -0.5), (22.0, 1.0), (24.0, 0.0), (26.0, 0.5), (28.0, 1.0), (30.0, 0.0), (32.0, 1.0),
          (34.0, -0.5), (36.0, 1.0), (38.0, 0.0), (40.0, 1.5), (42.0, 0.0), (44.0, 1.0), (46.0, -1.0), (48.0, 2.0),
          (50.0, -1.0), (52.0, 3.0), (54.0, 0.0), (56.0, -2.0), (58.0, 2.0), (60.0, -1.0), (62.0, 1.0), (64.0, 3.0),
          (66.0, -2.0), (68.0, -6.0), (70.0, 2.0), (72.0, 6.0), (74.0, -1.0), (76.0, 3.0), (78.0, -2.0),
          (80.0, 2.0), (82.0, 0.0), (84.0, 3.0), (86.0, -2.0), (88.0, 4.0), (90.0, -1.0), (92.0, 2.0), (94.0, 0.0),
          (96.0, 1.0), (98.0, -1.0), (100.0, 2.0), (102.0, -1.0), (103.7, 0.0)]

inclination = [(2.2, 3.0), (4.0, 2.0), (5.0, 4.0), (6.0, 1.0), (7.0, 3.0), (8.0, 2.0), (9.0, 3.5), (10.0, 1.0),
               (11.0, 4.0), (12.0, 2.0), (13.0, 1.5), (14.0, 3.0), (15.0, 5.0), (16.0, 2.0), (18.0, 1.5),
               (20.0, 1.0), (22.0, 2.5), (24.0, 1.5), (26.0, 2.0), (28.0, 3.0), (30.0, 2.0), (32.0, 1.5),
               (34.0, 2.5), (36.0, 2.0), (38.0, 1.0), (40.0, 2.0), (42.0, 1.5), (44.0, 3.0), (46.0, 4.5),
               (48.0, 2.0), (50.0, 3.0), (52.0, 1.5), (54.0, 2.0), (56.0, 4.0), (58.0, 1.0), (60.0, 3.0),
               (62.0, 2.0), (64.0, 5.0), (66.0, 2.0), (68.0, 7.0), (70.0, 3.0), (72.0, 8.5), (73.0, 2.0),
               (74.0, 1.0), (76.0, 5.0), (78.0, 2.0), (80.0, 4.0), (82.0, 1.5), (84.0, 6.5), (86.0, 2.0),
               (88.0, 4.0), (90.0, 1.0), (92.0, 3.0), (94.0, 1.5), (96.0, 5.0), (98.0, 1.0), (100.0, 4.0),
               (102.0, 2.0), (103.7, 3.0)]

x_ticks = [20, 40, 60, 80, 100]

BLUE = "#0000ff"
GREEN = "#00b000"
RED = "#cc0000"
FONT = "Arial, Liberation Sans, sans-serif"

# series, y label, y range, y ticks, colour, label offset from axis (px)
panels = [
    (tt7_board, "TT7 Board Temp (deg C)", [29, 32], [29, 29.5, 30, 30.5, 31, 31.5, 32], BLUE, 48),
    (tt7_case, "TT7 Case Temp (deg C)", [26, 28.5], [26, 26.5, 27, 27.5, 28, 28.5], BLUE, 48),
    (tt7_humidity, "TT7 Case Humidity (%RH)", [10.3, 10.8], [10.3, 10.4, 10.5, 10.6, 10.7, 10.8], BLUE, 48),
    (tt7_mains, "TT7 Mains  (volts)", [11.1, 11.6], [11.2, 11.3, 11.4, 11.5, 11.6], BLUE, 48),
    (water_temp, "Water Temperature (deg C)", [24.96, 25.04], [24.96, 24.98, 25, 25.02, 25.04], GREEN, 55.6),
    (system_current, "System Current (amps)", [9.6, 10.8], [9.8, 10, 10.2, 10.4, 10.6, 10.8], GREEN, 48),
    (coolant_flow, "Coolant Flow (liters/min)", [0.162, 0.169],
     [0.162, 0.163, 0.164, 0.165, 0.166, 0.167, 0.168, 0.169], GREEN, 55.6),
    (calib_block, "Calib Src Block Temp (deg C)", [26, 30], [26, 27, 28, 29, 30], GREEN, 37.5),
    (blue_array, "Blue Array Temp (deg C)", [-33.5, -31.5], [-33.5, -33, -32.5, -32, -31.5], BLUE, 53),
    (blue_heat, "Blue Heat Monitor (volts)", [-6, -4], [-6, -5.5, -5, -4.5, -4], BLUE, 45),
    (blue_ccd, "Blue CCD Head Temp (deg C)", [31.5, 33.5], [31.5, 32, 32.5, 33, 33.5], BLUE, 48),
    (blue_cal_diode, "Blue Cal Diode Monitor (volts)", [-0.1, 0.6],
     [-0.1, 0, 0.1, 0.2, 0.3, 0.4, 0.5, 0.6], BLUE, 45),
    (red_array, "Red Array Temp (deg C)", [-35.2, -34.2], [-35.2, -35, -34.8, -34.6, -34.4, -34.2], RED, 52),
    (red_heat, "Red Heat Monitor (volts)", [-3, -1.6], [-3, -2.8, -2.6, -2.4, -2.2, -2, -1.8, -1.6], RED, 45),
    (red_ccd, "Red CCD head temp (deg C)", [30.6, 32], [30.6, 30.8, 31, 31.2, 31.4, 31.6, 31.8, 32], RED, 48),
    (red_cal_diode, "Red Cal Diode Monitor (volts)", [-0.2, 1.2], [-0.2, 0, 0.2, 0.4, 0.6, 0.8, 1, 1.2], RED, 45),
    (mos_depth, "MOS Depth  (meters)", [9, 11], [9, 9.5, 10, 10.5, 11], GREEN, 48),
    (depth_sensor_temp, "Depth Sensor Temp (deg C)", [24.4, 25.8],
     [24.4, 24.6, 24.8, 25, 25.2, 25.4, 25.6, 25.8], GREEN, 48),
    (x_tilt, "X Tilt  (degrees)", [-6, 6], [-6, -4, -2, 0, 2, 4, 6], GREEN, 36),
    (y_tilt, "Y Tilt  (degrees)", [-10, 10], [-10, -5, 0, 5, 10], GREEN, 42),
    (inclination, "Inclination  (degrees)", [0, 10], [0, 2, 4, 6, 8, 10], BLUE, 38),
]

W, H = 750, 3000
COLS = [(98.3, 343.3), (433.0, 679.0)]
ROW0, ROW_STEP, AX_H = 30.7, 259.2, 207.0
XRANGE = [2.3, 103.6]

fig = go.Figure()
annotations = []
axis_style = dict(showline=True, linecolor="black", linewidth=2, mirror="ticks", ticks="inside", ticklen=4,
                  tickwidth=1.5, tickcolor="black", showgrid=False, zeroline=False,
                  tickfont=dict(family=FONT, size=12, color="black"))

for i, (series, label, yr, yt, color, off) in enumerate(panels):
    r, c = divmod(i, 2)
    x0, x1 = COLS[c]
    top = ROW0 + r * ROW_STEP
    bot = top + AX_H
    n = "" if i == 0 else str(i + 1)
    xs = [p[0] for p in series]
    ys = [p[1] for p in series]
    fig.add_trace(go.Scatter(x=xs, y=ys, mode="lines", line=dict(color=color, width=2),
                             xaxis="x" + n, yaxis="y" + n, showlegend=False, hoverinfo="skip"))
    fig.update_layout(**{
        "xaxis" + n: dict(domain=[x0 / W, x1 / W], anchor="y" + n, range=XRANGE, tickvals=x_ticks,
                          ticktext=[str(t) for t in x_ticks], ticklabelstandoff=5, **axis_style),
        "yaxis" + n: dict(domain=[1 - bot / H, 1 - top / H], anchor="x" + n, range=yr, tickvals=yt,
                          ticktext=[f"{t:g}" for t in yt], ticklabelstandoff=4, **axis_style),
    })
    annotations.append(dict(text="Variable Number", x=((x0 + x1) / 2 + 10) / W, y=1 - (bot + 33) / H,
                            xref="paper", yref="paper", showarrow=False, xanchor="center", yanchor="middle",
                            font=dict(family=FONT, size=16, color="black")))
    annotations.append(dict(text=label, textangle=-90, x=(x0 - off) / W, y=1 - ((top + bot) / 2 - 16) / H,
                            xref="paper", yref="paper", showarrow=False, xanchor="center", yanchor="middle",
                            font=dict(family=FONT, size=16, color="black")))

fig.update_layout(width=W, height=H, margin=dict(l=0, r=0, t=0, b=0), paper_bgcolor="white",
                  plot_bgcolor="white", annotations=annotations)

fig.write_html("out.html")
